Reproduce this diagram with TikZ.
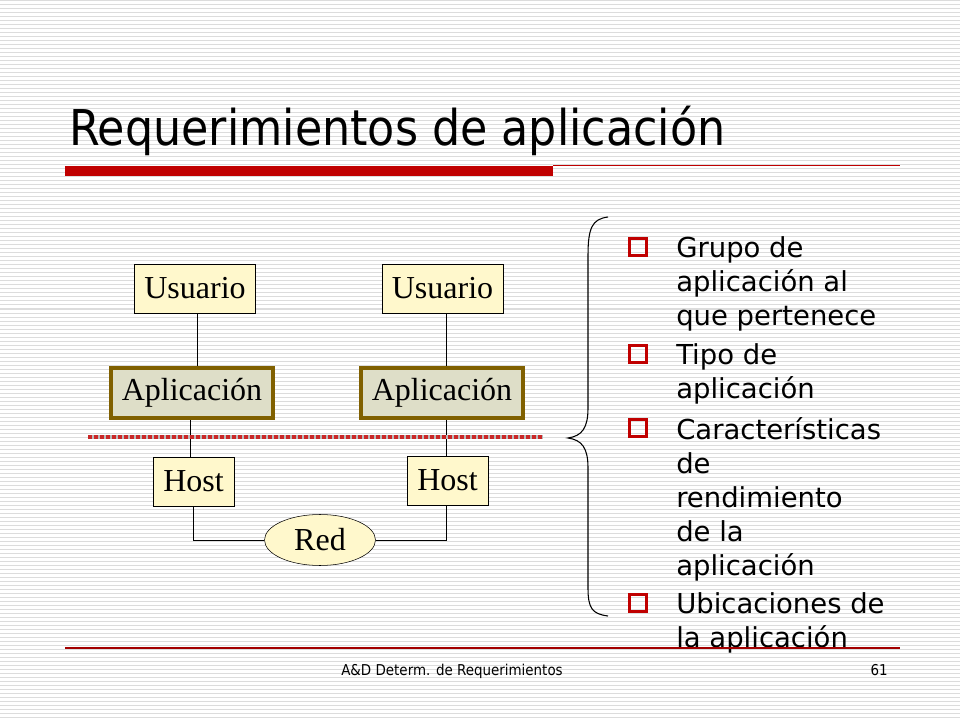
\documentclass[tikz,border=0pt]{standalone}
\usepackage{fontspec}
\setmainfont{Liberation Serif}
\newfontfamily\verdana{DejaVu Sans}
\newfontfamily\tahoma{DejaVu Sans Condensed}
\usepackage{tikz}
\usetikzlibrary{positioning,shapes.geometric}
\definecolor{slidered}{HTML}{C00000}
\definecolor{boxfill}{HTML}{FFF8CC}
\definecolor{appfill}{HTML}{DEDEC8}
\definecolor{appedge}{HTML}{806000}
\definecolor{stripe}{HTML}{DCDCDC}

\begin{document}
\begin{tikzpicture}[x=0.75pt,y=-0.75pt]
        \tikzstyle{caja}=[draw, fill=boxfill, inner sep=0pt, minimum height=36.75pt, font=\fontsize{24}{24}\selectfont]
        \tikzstyle{app}=[caja, fill=appfill, draw=appedge, line width=3pt, minimum width=121.5pt, minimum height=37.5pt]
        \tikzstyle{bullet}=[draw=slidered, line width=2.2pt, inner sep=0pt, minimum size=12.5pt]
        \tikzstyle{item}=[anchor=north west, inner sep=0pt, align=left, font=\verdana\fontsize{20.6}{25.5}\selectfont]

        % fondo rayado
        \useasboundingbox (0,0) rectangle (960,720);
        \fill[white] (0,0) rectangle (960,720);
        \foreach \y in {1,5,...,720}
            \draw[stripe, line width=0.75pt] (0,\y) -- (960,\y);

        % titulo
        \node[anchor=base west, inner sep=0pt, font=\tahoma\fontsize{37}{37}\selectfont] (titulo) at (69,146) {Requerimientos de aplicación};
        \fill[slidered] (65,166) rectangle (553,176);
        \draw[slidered, line width=1.1pt] (553,165.5) -- (900,165.5);

        % diagrama
        \node[caja, minimum width=90.75pt] (u1) at (195,288.5) {Usuario};
        \node[caja, minimum width=90.75pt] (u2) at (442.5,288.5) {Usuario};
        \node[app] (a1) at (192,393) {Aplicación};
        \node[app] (a2) at (442,393) {Aplicación};
        \node[caja, minimum width=60.75pt] (h1) at (193.5,481.5) {Host};
        \node[caja, minimum width=60.75pt] (h2) at (447.5,480.5) {Host};
        \node[caja, ellipse, minimum width=83.25pt, minimum height=38.25pt] (red) at (320,540) {Red};

        \draw (u1.south -| 197,0) -- (197,0 |- a1.north);
        \draw (u2.south -| 446,0) -- (446,0 |- a2.north);
        \draw (a1.south -| 190,0) -- (190,0 |- h1.north);
        \draw (a2.south -| 446,0) -- (446,0 |- h2.north);
        \draw (h1.south) |- (red.west);
        \draw (h2.south -| 446,0) |- (red.east);

        \coordinate (corteL) at (88,437);
        \coordinate (corteR) at (543,437);
        \draw[gray!55, line width=2.6pt] (corteL) -- (corteR);
        \draw[slidered!85, line width=2.6pt, dash pattern=on 3.2pt off 1.3pt] (corteL) -- (corteR);

        % llave
        \draw[line width=0.8pt] (608,217) .. controls (592,219) and (588,228) .. (588,256) -- (588,408)
            .. controls (588,428) and (582,436) .. (568,438) .. controls (582,440) and (588,448) .. (588,468)
            -- (588,588) .. controls (588,608) and (592,614) .. (608,616);

        % lista
        \node[bullet] (b1) at (638,247) {};
        \node[bullet] (b2) at (638,354) {};
        \node[bullet] (b3) at (638,428) {};
        \node[bullet] (b4) at (638,603) {};
        \node[item] (t1) at (676,236) {Grupo de\\aplicación al\\que pertenece};
        \node[item] (t2) at (676,343) {Tipo de\\aplicación};
        \node[item] (t3) at (676,417) {Características\\de\\rendimiento\\de la\\aplicación};
        \node[item] (t4) at (676,592) {Ubicaciones de\\la aplicación};

        % pie
        \draw[slidered!85!black, line width=0.8pt] (65,648) -- (900,648);
        \node[anchor=base, inner sep=0pt, font=\tahoma\fontsize{11.2}{11.2}\selectfont] (pie) at (452,675) {A\&D Determ. de Requerimientos};
        \node[anchor=base east, inner sep=0pt, font=\tahoma\fontsize{11.2}{11.2}\selectfont] (num) at (888,675) {61};
\end{tikzpicture}
\end{document}
